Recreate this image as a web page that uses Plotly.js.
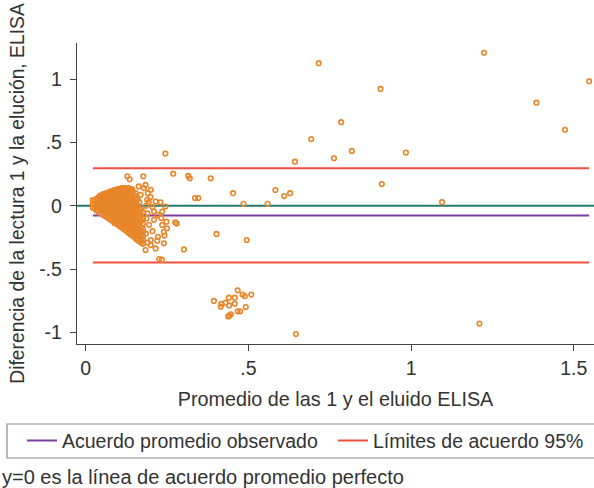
<!DOCTYPE html>
<html>
<head>
<meta charset="utf-8">
<script src="https://cdn.plot.ly/plotly-3.0.1.min.js"></script>
<style>html,body{margin:0;padding:0;background:#fff;}#chart{width:594px;height:488px;}</style>
</head>
<body>
<div id="chart"></div>
<script>
// Promedio (x) y diferencia (y)
const promedio = [
  0.022,0.022,0.022,
  0.033,0.033,0.033,0.033,
  0.044,0.044,0.044,0.044,0.044,0.044,
  0.055,0.055,0.055,0.055,0.055,0.055,0.055,
  0.066,0.066,0.066,0.066,0.066,0.066,0.066,0.066,
  0.077,0.077,0.077,0.077,0.077,0.077,0.077,0.077,0.077,
  0.088,0.088,0.088,0.088,0.088,0.088,0.088,0.088,0.088,0.088,
  0.099,0.099,0.099,0.099,0.099,0.099,0.099,0.099,0.099,0.099,0.099,
  0.110,0.110,0.110,0.110,0.110,0.110,0.110,0.110,0.110,0.110,0.110,0.110,
  0.121,0.121,0.121,0.121,0.121,0.121,0.121,0.121,0.121,0.121,0.121,0.121,
  0.132,0.132,0.132,0.132,0.132,0.132,0.132,0.132,0.132,0.132,0.132,0.132,0.132,
  0.143,0.143,0.143,0.143,0.143,0.143,0.143,0.143,0.143,0.143,0.143,0.143,0.143,
  0.154,0.154,0.154,0.154,0.154,0.154,0.154,0.154,0.154,0.154,0.154,0.154,
  0.165,0.165,0.165,0.165,0.165,0.165,0.165,0.165,0.165,0.165,
  0.176,0.176,0.176,0.176,0.176,0.176,0.176,0.176,
  0.0275,0.0275,0.0275,
  0.0385,0.0385,0.0385,0.0385,0.0385,
  0.0495,0.0495,0.0495,0.0495,0.0495,0.0495,
  0.0605,0.0605,0.0605,0.0605,0.0605,0.0605,0.0605,
  0.0715,0.0715,0.0715,0.0715,0.0715,0.0715,0.0715,0.0715,
  0.0825,0.0825,0.0825,0.0825,0.0825,0.0825,0.0825,0.0825,0.0825,
  0.0935,0.0935,0.0935,0.0935,0.0935,0.0935,0.0935,0.0935,0.0935,0.0935,
  0.1045,0.1045,0.1045,0.1045,0.1045,0.1045,0.1045,0.1045,0.1045,0.1045,0.1045,
  0.1155,0.1155,0.1155,0.1155,0.1155,0.1155,0.1155,0.1155,0.1155,0.1155,0.1155,0.1155,
  0.1265,0.1265,0.1265,0.1265,0.1265,0.1265,0.1265,0.1265,0.1265,0.1265,0.1265,0.1265,
  0.1375,0.1375,0.1375,0.1375,0.1375,0.1375,0.1375,0.1375,0.1375,0.1375,0.1375,0.1375,0.1375,
  0.1485,0.1485,0.1485,0.1485,0.1485,0.1485,0.1485,0.1485,0.1485,0.1485,0.1485,
  0.1595,0.1595,0.1595,0.1595,0.1595,0.1595,0.1595,0.1595,0.1595,0.1595,
  0.1705,0.1705,0.1705,0.1705,0.1705,0.1705,0.1705,0.1705,
  0.128,0.135,0.163,0.177,0.184,0.179,0.200,0.191,0.169,0.199,
  0.189,0.194,0.215,0.230,0.245,0.210,0.235,0.220,0.232,0.248,
  0.235,0.250,0.240,0.222,0.242,0.200,0.220,0.240,0.200,0.215,
  0.184,0.190,0.205,0.195,0.210,0.190,0.205,0.185,0.187,0.185,
  0.226,0.234,0.245,0.269,0.315,0.320,0.384,0.336,0.346,0.275,
  0.280,0.302,0.402,0.495,0.453,0.485,0.559,0.583,0.610,0.628,
  0.643,0.693,0.716,0.763,0.785,0.818,0.906,0.910,0.984,1.095,
  1.224,1.385,1.473,1.547,1.210,0.646,
  0.394,0.467,0.509,0.482,0.489,0.440,0.458,0.430,0.417,0.415,
  0.441,0.458,0.492,0.467,0.475,0.446,0.441,0.438
];
const diferencia = [
  -0.015,0.015,0.045,
  -0.035,-0.005,0.025,0.055,
  -0.055,-0.025,0.005,0.035,0.065,0.080,
  -0.075,-0.045,-0.015,0.015,0.045,0.075,0.095,
  -0.090,-0.060,-0.030,0.000,0.030,0.060,0.090,0.105,
  -0.110,-0.080,-0.050,-0.020,0.010,0.040,0.070,0.100,0.115,
  -0.135,-0.105,-0.075,-0.045,-0.015,0.015,0.045,0.075,0.105,0.125,
  -0.150,-0.120,-0.090,-0.060,-0.030,0.000,0.030,0.060,0.090,0.120,0.135,
  -0.170,-0.140,-0.110,-0.080,-0.050,-0.020,0.010,0.040,0.070,0.100,0.130,0.140,
  -0.190,-0.160,-0.130,-0.100,-0.070,-0.040,-0.010,0.020,0.050,0.080,0.110,0.140,
  -0.215,-0.185,-0.155,-0.125,-0.095,-0.065,-0.035,-0.005,0.025,0.055,0.085,0.115,0.140,
  -0.235,-0.205,-0.175,-0.145,-0.115,-0.085,-0.055,-0.025,0.005,0.035,0.070,0.110,0.130,
  -0.260,-0.230,-0.200,-0.170,-0.140,-0.110,-0.080,-0.050,-0.020,0.020,0.060,0.100,
  -0.280,-0.250,-0.220,-0.190,-0.160,-0.130,-0.100,-0.060,-0.020,0.030,
  -0.300,-0.270,-0.240,-0.210,-0.180,-0.140,-0.100,-0.050,
  -0.020,0.010,0.040,
  -0.040,-0.010,0.020,0.050,0.065,
  -0.060,-0.030,0.000,0.030,0.060,0.085,
  -0.080,-0.050,-0.020,0.010,0.040,0.070,0.095,
  -0.100,-0.070,-0.040,-0.010,0.020,0.050,0.080,0.105,
  -0.120,-0.090,-0.060,-0.030,0.000,0.030,0.060,0.090,0.115,
  -0.140,-0.110,-0.080,-0.050,-0.020,0.010,0.040,0.070,0.100,0.125,
  -0.160,-0.130,-0.100,-0.070,-0.040,-0.010,0.020,0.050,0.080,0.110,0.135,
  -0.180,-0.150,-0.120,-0.090,-0.060,-0.030,0.000,0.030,0.060,0.090,0.120,0.140,
  -0.200,-0.170,-0.140,-0.110,-0.080,-0.050,-0.020,0.010,0.040,0.070,0.100,0.130,
  -0.225,-0.195,-0.165,-0.135,-0.105,-0.075,-0.045,-0.015,0.015,0.045,0.075,0.105,0.135,
  -0.245,-0.215,-0.185,-0.155,-0.125,-0.095,-0.065,-0.035,0.000,0.040,0.085,
  -0.270,-0.240,-0.210,-0.180,-0.150,-0.120,-0.090,-0.040,0.000,0.050,
  -0.290,-0.260,-0.230,-0.200,-0.170,-0.120,-0.075,-0.030,
  0.233,0.210,0.153,0.233,0.165,0.140,0.127,0.100,0.087,0.070,
  0.048,0.030,0.034,0.028,-0.005,-0.045,-0.045,-0.071,-0.095,-0.125,
  -0.151,-0.177,-0.205,-0.244,-0.235,-0.270,-0.275,-0.296,-0.310,-0.336,
  -0.349,-0.290,-0.200,-0.150,-0.110,-0.060,-0.010,0.000,-0.100,-0.220,
  -0.420,-0.425,0.413,0.254,0.236,0.217,0.217,0.061,0.061,-0.130,
  -0.140,-0.344,-0.222,-0.270,0.100,0.016,0.016,0.125,0.077,0.100,
  0.349,0.527,1.127,0.375,0.661,0.434,0.923,0.172,0.421,0.029,
  1.209,0.815,0.601,0.984,-0.930,-1.013,
  -0.751,-0.667,-0.701,-0.700,-0.714,-0.725,-0.725,-0.765,-0.773,-0.796,
  -0.786,-0.773,-0.799,-0.833,-0.833,-0.857,-0.868,-0.873
];
const acuerdoPromedio = -0.076;
const limitesAcuerdo = [0.296, -0.448];
const xTickVals = [0, 0.5, 1, 1.5];
const xTickText = ['0', '.5', '1', '1.5'];
const yTickVals = [-1, -0.5, 0, 0.5, 1];
const yTickText = ['-1', '-.5', '0', '.5', '1'];

const xMin = Math.min(...promedio), xMax = Math.max(...promedio);
const FONT = '"Liberation Sans", Arial, sans-serif';
const TXT = '#333333';

const traces = [
  {type:'scatter', mode:'lines', name:'Acuerdo promedio observado', legend:'legend',
   x:[xMin,xMax], y:[acuerdoPromedio,acuerdoPromedio],
   line:{color:'#7b3f9e', width:2}, hoverinfo:'skip'},
  {type:'scatter', mode:'lines', name:'Límites de acuerdo 95%', legend:'legend2',
   x:[xMin,xMax,null,xMin,xMax], y:[limitesAcuerdo[0],limitesAcuerdo[0],null,limitesAcuerdo[1],limitesAcuerdo[1]],
   line:{color:'#f0503f', width:2}, hoverinfo:'skip'},
  {type:'scatter', mode:'markers', name:'datos', showlegend:false,
   x:promedio, y:diferencia,
   marker:{symbol:'circle-open', size:4.6, color:'#e8862a', line:{width:1.6, color:'#e8862a'}}}
];

const legendCommon = {orientation:'h', xanchor:'left', y:-0.322, yanchor:'middle',
  bgcolor:'rgba(0,0,0,0)', borderwidth:0, font:{family:FONT, size:19.5, color:TXT}};

const layout = {
  width:594, height:488,
  margin:{l:77, r:0, t:43, b:144, pad:0},
  paper_bgcolor:'#ffffff', plot_bgcolor:'#ffffff',
  font:{family:FONT, size:19.5, color:TXT},
  showlegend:true,
  xaxis:{range:[-0.0267,1.562], tickvals:xTickVals, ticktext:xTickText,
    showgrid:false, zeroline:false, showline:true, linecolor:'#444', linewidth:1.2,
    ticks:'outside', ticklen:6, tickwidth:1.2, tickcolor:'#444',
    tickfont:{size:19.5},
    title:{text:'Promedio de las 1 y el eluido ELISA', standoff:14, font:{size:19.8}}},
  yaxis:{range:[-1.091,1.286], tickvals:yTickVals, ticktext:yTickText,
    showgrid:false, zeroline:false, showline:true, linecolor:'#444', linewidth:1.2,
    ticks:'outside', ticklen:6, tickwidth:1.2, tickcolor:'#444',
    tickfont:{size:19.5}, ticklabelstandoff:4,
    title:{text:'Diferencia de la lectura 1 y la elución, ELISA', standoff:9, font:{size:19.3}}},
  legend:Object.assign({}, legendCommon, {x:-0.1064}),
  legend2:Object.assign({}, legendCommon, {x:0.4952}),
  shapes:[
    {type:'line', xref:'paper', x0:0, x1:1, yref:'y', y0:0, y1:0, layer:'below',
     line:{color:'#237a73', width:2}},
    {type:'rect', xref:'paper', yref:'paper', x0:-0.1354, x1:1.02, y0:-0.2658, y1:-0.3787,
     line:{color:'#8a8a8a', width:1.2}, fillcolor:'rgba(0,0,0,0)'}
  ],
  annotations:[
    {xref:'paper', yref:'paper', x:-0.149, y:-0.442, xanchor:'left', yanchor:'middle',
     text:'y=0 es la línea de acuerdo promedio perfecto', showarrow:false,
     font:{family:FONT, size:20, color:TXT}}
  ]
};

Plotly.newPlot('chart', traces, layout, {staticPlot:true, displayModeBar:false});
</script>
</body>
</html>
